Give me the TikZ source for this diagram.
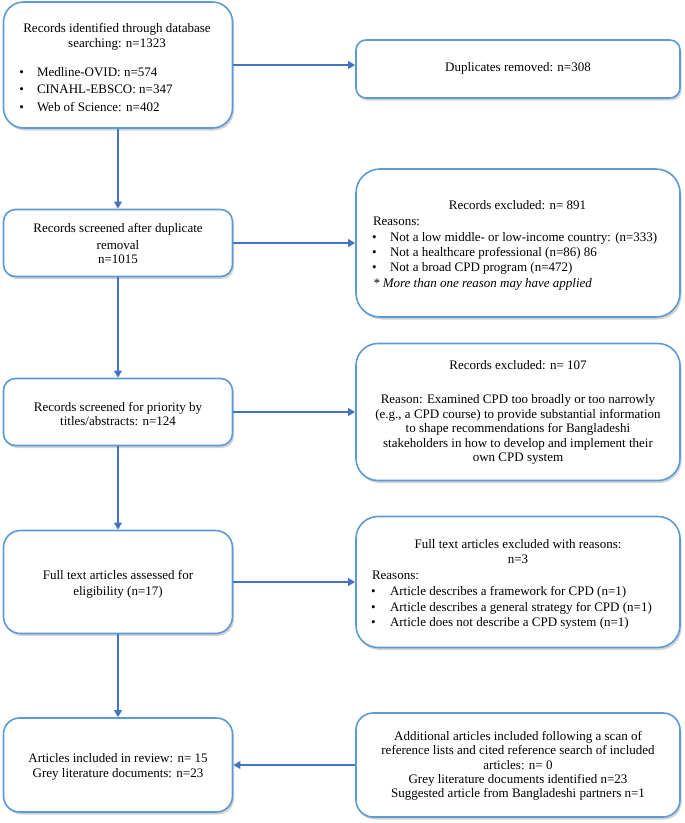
\documentclass[tikz,border=0pt]{standalone}
\usepackage{fontspec}
\setmainfont{Liberation Serif}
\usetikzlibrary{arrows.meta,shadows}
\definecolor{boxblue}{HTML}{5B9BD5}
\definecolor{arrblue}{HTML}{4472C4}
\begin{document}
\begin{tikzpicture}[x=1pt,y=-1pt,
  box/.style={draw=boxblue, line width=1.6pt, fill=white, rounded corners=#1, inner sep=0pt,
    drop shadow={shadow xshift=1.5pt,shadow yshift=-2.5pt,opacity=0.35}},
  box/.default=15pt,
  lw/.style={minimum width=229pt},
  rw/.style={minimum width=324pt},
  txt/.style={font=\fontsize{13}{15}\selectfont, inner sep=0pt, outer sep=0pt},
  ctr/.style={txt, anchor=base},
  lft/.style={txt, anchor=base west},
  arr/.style={draw=arrblue, line width=1.9pt, -{Triangle[length=7pt,width=7.5pt]}}
]
\useasboundingbox (0,0) rectangle (685,823);

% boxes
\node[box=20pt, lw, minimum height=126pt] (b1) at (118,65) {};
\node[box=10pt, rw, minimum height=58pt] (d) at (518,69) {};
\node[box=12pt, lw, minimum height=67pt] (b2) at (118,243) {};
\node[box=24pt, rw, minimum height=148pt] (r1) at (518,243) {};
\node[box=12pt, lw, minimum height=67pt] (b3) at (118,412) {};
\node[box=22pt, rw, minimum height=137pt] (r2) at (518,412) {};
\node[box=17pt, lw, minimum height=103pt] (b4) at (118,582) {};
\node[box=22pt, rw, minimum height=131pt] (r3) at (518,582) {};
\node[box=16pt, lw, minimum height=94pt] (b5) at (118,765) {};
\node[box=17pt, rw, minimum height=104pt] (r4) at (518,765) {};

% box 1 text
\node[ctr] (t1a) at (117,32.5) {Records identified through database};
\node[ctr] (t1b) at (117,47.5) {searching: n=1323};
\node[lft] (t1c) at (19.5,76.5) {\textbullet};
\node[lft] (t1d) at (37,76.5) {Medline-OVID: n=574};
\node[lft] (t1e) at (19.5,93.5) {\textbullet};
\node[lft] (t1f) at (37,93.5) {CINAHL-EBSCO: n=347};
\node[lft] (t1g) at (19.5,111.5) {\textbullet};
\node[lft] (t1h) at (37,111.5) {Web of Science: n=402};

% duplicates
\node[ctr] (td) at (518,71.5) {Duplicates removed: n=308};

% box 2 text
\node[ctr] (t2a) at (118,232.5) {Records screened after duplicate};
\node[ctr] (t2b) at (118,249) {removal};
\node[ctr] (t2c) at (118,263.5) {n=1015};

% excluded 1
\node[ctr] (u1a) at (517.5,209.5) {Records excluded: n= 891};
\node[lft] (u1b) at (373,225.5) {Reasons:};
\node[lft] (u1c) at (372,241.5) {\textbullet};
\node[lft] (u1d) at (390,241.5) {Not a low middle- or low-income country: (n=333)};
\node[lft] (u1e) at (372,256.5) {\textbullet};
\node[lft] (u1f) at (390,256.5) {Not a healthcare professional (n=86) 86};
\node[lft] (u1g) at (372,271.5) {\textbullet};
\node[lft] (u1h) at (390,271.5) {Not a broad CPD program (n=472)};
\node[lft] (u1i) at (373,287.5) {\itshape * More than one reason may have applied};

% box 3 text
\node[ctr] (t3a) at (118,411.5) {Records screened for priority by};
\node[ctr] (t3b) at (118,425.5) {titles/abstracts: n=124};

% excluded 2
\node[ctr] (u2a) at (518,369.5) {Records excluded: n= 107};
\node[ctr] (u2b) at (518,403.5) {Reason: Examined CPD too broadly or too narrowly};
\node[ctr] (u2c) at (518,418) {(e.g., a CPD course) to provide substantial information};
\node[ctr] (u2d) at (518,432.5) {to shape recommendations for Bangladeshi};
\node[ctr] (u2e) at (518,447) {stakeholders in how to develop and implement their};
\node[ctr] (u2f) at (518,461.5) {own CPD system};

% box 4 text
\node[ctr] (t4a) at (118,579.5) {Full text articles assessed for};
\node[ctr] (t4b) at (118,595.5) {eligibility (n=17)};

% excluded 3
\node[ctr] (u3a) at (518,548.5) {Full text articles excluded with reasons:};
\node[ctr] (u3b) at (518,563.5) {n=3};
\node[lft] (u3c) at (372,579.5) {Reasons:};
\node[lft] (u3d) at (371,595.5) {\textbullet};
\node[lft] (u3e) at (390,595.5) {Article describes a framework for CPD (n=1)};
\node[lft] (u3f) at (371,611.5) {\textbullet};
\node[lft] (u3g) at (390,611.5) {Article describes a general strategy for CPD (n=1)};
\node[lft] (u3h) at (371,626.5) {\textbullet};
\node[lft] (u3i) at (390,626.5) {Article does not describe a CPD system (n=1)};

% box 5 text
\node[ctr] (t5a) at (118,762.5) {Articles included in review: n= 15};
\node[ctr] (t5b) at (118,777.5) {Grey literature documents: n=23};

% additional
\node[ctr] (u4a) at (518,740.5) {Additional articles included following a scan of};
\node[ctr] (u4b) at (518,754.5) {reference lists and cited reference search of included};
\node[ctr] (u4c) at (518,769) {articles: n= 0};
\node[ctr] (u4d) at (518,783) {Grey literature documents identified n=23};
\node[ctr] (u4e) at (518,797) {Suggested article from Bangladeshi partners n=1};

% connectors
\draw[arr] (b1.south) -- (b2.north);
\draw[arr] (b2.south) -- (b3.north);
\draw[arr] (b3.south) -- (b4.north);
\draw[arr] (b4.south) -- (b5.north);
\draw[arr] (b1.east) -- (b1.east -| d.west);
\draw[arr] (b2.east) -- (b2.east -| r1.west);
\draw[arr] (b3.east) -- (b3.east -| r2.west);
\draw[arr] (b4.east) -- (b4.east -| r3.west);
\draw[arr] (r4.west) -- (r4.west -| b5.east);
\end{tikzpicture}
\end{document}
